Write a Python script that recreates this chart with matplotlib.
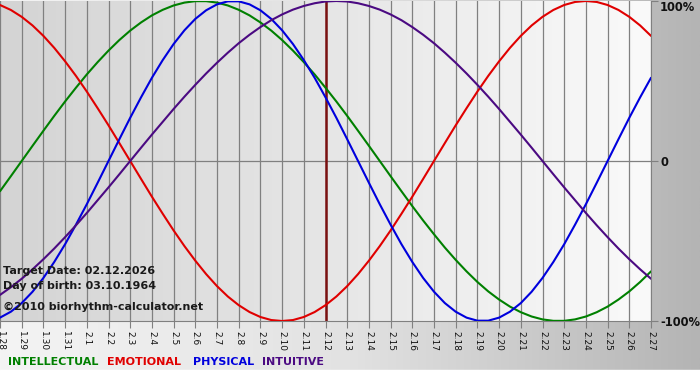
import numpy as np
import matplotlib
matplotlib.use('Agg')
import matplotlib.pyplot as plt
from matplotlib.colors import LinearSegmentedColormap

# ---- data ----
dates = ['1.28', '1.29', '1.30', '1.31', '2.1', '2.2', '2.3', '2.4', '2.5', '2.6',
         '2.7', '2.8', '2.9', '2.10', '2.11', '2.12', '2.13', '2.14', '2.15', '2.16',
         '2.17', '2.18', '2.19', '2.20', '2.21', '2.22', '2.23', '2.24', '2.25', '2.26',
         '2.27']
# values read every half day, from 1.28 to 2.27
physical = [-0.979, -0.942, -0.888, -0.817, -0.731, -0.631, -0.520, -0.398, -0.270, -0.136,
            0.000, 0.136, 0.270, 0.398, 0.520, 0.631, 0.731, 0.817, 0.888, 0.942,
            0.979, 0.998, 0.998, 0.979, 0.942, 0.888, 0.817, 0.731, 0.631, 0.520,
            0.398, 0.270, 0.136, 0.000, -0.136, -0.270, -0.398, -0.520, -0.631, -0.731,
            -0.817, -0.888, -0.942, -0.979, -0.998, -0.998, -0.979, -0.942, -0.888, -0.817,
            -0.731, -0.631, -0.520, -0.398, -0.270, -0.136, 0.000, 0.136, 0.270, 0.398,
            0.520]
emotional = [0.975, 0.944, 0.901, 0.847, 0.782, 0.707, 0.623, 0.532, 0.434, 0.330,
             0.223, 0.112, 0.000, -0.112, -0.223, -0.330, -0.434, -0.532, -0.623, -0.707,
             -0.782, -0.847, -0.901, -0.944, -0.975, -0.994, -1.000, -0.994, -0.975, -0.944,
             -0.901, -0.847, -0.782, -0.707, -0.623, -0.532, -0.434, -0.330, -0.223, -0.112,
             0.000, 0.112, 0.223, 0.330, 0.434, 0.532, 0.623, 0.707, 0.782, 0.847,
             0.901, 0.944, 0.975, 0.994, 1.000, 0.994, 0.975, 0.944, 0.901, 0.847,
             0.782]
intellectual = [-0.189, -0.095, 0.000, 0.095, 0.189, 0.282, 0.372, 0.458, 0.541, 0.618,
                0.690, 0.756, 0.815, 0.866, 0.910, 0.945, 0.972, 0.990, 0.999, 0.999,
                0.990, 0.972, 0.945, 0.910, 0.866, 0.815, 0.756, 0.690, 0.618, 0.541,
                0.458, 0.372, 0.282, 0.189, 0.095, 0.000, -0.095, -0.189, -0.282, -0.372,
                -0.458, -0.541, -0.618, -0.690, -0.756, -0.815, -0.866, -0.910, -0.945, -0.972,
                -0.990, -0.999, -0.999, -0.990, -0.972, -0.945, -0.910, -0.866, -0.815, -0.756,
                -0.690]
intuitive = [-0.837, -0.789, -0.736, -0.677, -0.614, -0.547, -0.476, -0.402, -0.325, -0.245,
             -0.165, -0.083, 0.000, 0.083, 0.165, 0.245, 0.325, 0.402, 0.476, 0.547,
             0.614, 0.677, 0.736, 0.789, 0.837, 0.880, 0.916, 0.946, 0.969, 0.986,
             0.997, 1.000, 0.997, 0.986, 0.969, 0.946, 0.916, 0.880, 0.837, 0.789,
             0.736, 0.677, 0.614, 0.547, 0.476, 0.402, 0.325, 0.245, 0.165, 0.083,
             0.000, -0.083, -0.165, -0.245, -0.325, -0.402, -0.476, -0.547, -0.614, -0.677,
             -0.736]
target_label = '2.12'
series_names = ['INTELLECTUAL', 'EMOTIONAL', 'PHYSICAL', 'INTUITIVE']
series_colors = ['#008000', '#e00000', '#0000dd', '#4b0a82']
info_lines = ['Target Date: 02.12.2026', 'Day of birth: 03.10.1964',
              '\u00a92010 biorhythm-calculator.net']

W, H = 700, 380
fig = plt.figure(figsize=(7, 3.8), dpi=100)

# figure background gradient
bg = fig.add_axes([0, 0, 1, 1], zorder=-10)
bg.set_axis_off()
grad = np.linspace(0, 1, 256).reshape(1, -1)
cmap_bg = LinearSegmentedColormap.from_list('bg', ['#f4f4f4', '#e2e2e2', '#b4b4b4'])
bg.imshow(grad, aspect='auto', cmap=cmap_bg, extent=[0, 1, 0, 1])
bg.axhspan(0, 10 / H, color='white')
bg.set_xlim(0, 1)
bg.set_ylim(0, 1)

# plot area
left, right_px, top_px, bottom_px = 0, 651, 1, 321
ax = fig.add_axes([left / W, (H - bottom_px) / H, (right_px - left) / W,
                   (bottom_px - top_px) / H])
x = np.arange(len(dates))
xs = np.arange(len(physical)) * 0.5
ax.set_xlim(0, len(dates) - 1)
ax.set_ylim(-1, 1)
cmap_pl = LinearSegmentedColormap.from_list('pl', ['#d4d4d4', '#e6e6e6', '#fafafa'])
ax.imshow(grad, aspect='auto', cmap=cmap_pl, extent=[0, len(dates) - 1, -1, 1],
          zorder=0)

for xi in x:
    ax.axvline(xi, color='#808080', lw=0.9, zorder=1)
ax.axhline(0, color='#808080', lw=0.9, zorder=1)

ti = dates.index(target_label)
ax.axvline(ti, color='#7a1010', lw=1.8, zorder=2)

for vals, c in zip([intellectual, emotional, physical, intuitive], series_colors):
    ax.plot(xs, vals, color=c, lw=1.5, zorder=3, solid_capstyle='round')

ax.set_xticks(x)
ax.set_xticklabels(dates, rotation=-90, fontsize=6.5, color='#111111')
ax.tick_params(axis='x', length=5, color='#808080', pad=2)
for lab in ax.get_xticklabels():
    lab.set_va('top')
    lab.set_ha('center')

ax.yaxis.tick_right()
ax.set_yticks([-1, 0, 1])
ax.set_yticklabels(['-100%', '0', '100%'], fontsize=8.3, fontweight='bold',
                   color='#111111')
ax.tick_params(axis='y', length=5, color='#808080', pad=1.5)
ylabs = ax.get_yticklabels()
ylabs[2].set_va('top')

for s in ['top', 'left']:
    ax.spines[s].set_visible(False)
ax.spines['bottom'].set_color('#808080')
ax.spines['right'].set_color('#808080')

# info text
for t, yp in zip(info_lines, [271, 286, 307]):
    fig.text(3 / W, 1 - yp / H, t, fontsize=8, fontweight='bold', color='#1a1a1a',
             va='center', ha='left')

# legend
for name, c, xp in zip(series_names, series_colors, [8, 107, 193, 262]):
    fig.text(xp / W, 1 - 362 / H, name, fontsize=8, fontweight='bold', color=c,
             va='center', ha='left')

fig.savefig('out.png', dpi=100)
